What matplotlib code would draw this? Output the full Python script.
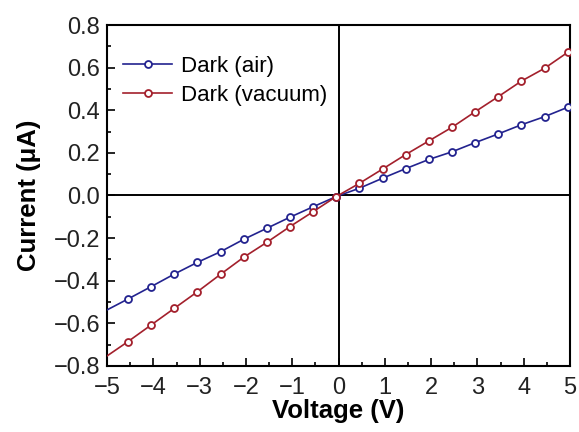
import matplotlib
matplotlib.use('Agg')
import matplotlib.pyplot as plt
from matplotlib.ticker import MultipleLocator

plt.rcParams['font.family'] = ['Liberation Sans', 'DejaVu Sans']

# data: line ends at -5 and 5, markers in between
voltage = [-5.0, -4.55, -4.05, -3.55, -3.05, -2.55, -2.05, -1.55, -1.05, -0.55, -0.05,
           0.45, 0.95, 1.45, 1.95, 2.45, 2.95, 3.45, 3.95, 4.45, 4.95, 5.0]
i_air = [-0.537, -0.486, -0.428, -0.369, -0.314, -0.264, -0.206, -0.154, -0.102, -0.053, -0.005,
         0.034, 0.081, 0.126, 0.169, 0.205, 0.248, 0.289, 0.332, 0.370, 0.414, 0.420]
i_vac = [-0.753, -0.686, -0.608, -0.530, -0.452, -0.370, -0.290, -0.220, -0.146, -0.076, -0.005,
         0.057, 0.124, 0.192, 0.256, 0.320, 0.393, 0.464, 0.537, 0.597, 0.672, 0.680]
labels = ['Dark (air)', 'Dark (vacuum)']
colors = ['#23238f', '#a3202c']

fig = plt.figure(figsize=(5.79, 4.32), dpi=100)
ax = fig.add_axes([0.185, 0.153, 0.7995, 0.789])

ax.axhline(0, color='black', linewidth=1.4, zorder=1)
ax.axvline(0, color='black', linewidth=1.4, zorder=1)

marks = list(range(1, len(voltage) - 1))
for ys, lbl, c in zip([i_air, i_vac], labels, colors):
    ax.plot(voltage, ys, color=c, linewidth=1.2, marker='o', markersize=5,
            markerfacecolor='white', markeredgecolor=c, markeredgewidth=1.3,
            markevery=marks, label=lbl, zorder=3)

ax.set_xlim(-5, 5)
ax.set_ylim(-0.8, 0.8)
ax.xaxis.set_major_locator(MultipleLocator(1))
ax.xaxis.set_minor_locator(MultipleLocator(0.5))
ax.yaxis.set_minor_locator(MultipleLocator(0.1))
ax.set_yticks([-0.8, -0.6, -0.4, -0.2, 0.0, 0.2, 0.4, 0.6, 0.8])
ax.set_yticklabels(['\u22120.8', '\u22120.6', '\u22120.4', '\u22120.2', '0.0',
                    '0.2', '0.4', '0.6', '0.8'])
ax.tick_params(which='both', direction='in', labelsize=17, width=1.2,
               labelcolor='#222222')
ax.tick_params(axis='x', pad=8)
ax.tick_params(axis='y', pad=5)
ax.tick_params(which='major', length=6)
ax.tick_params(which='minor', length=3)
for s in ax.spines.values():
    s.set_linewidth(1.5)

ax.set_xlabel('Voltage (V)', fontsize=18.5, fontweight='bold', labelpad=0)
ax.set_ylabel('Current (\u03bcA)', fontsize=18.5, fontweight='bold', labelpad=9)

ax.legend(loc='upper left', bbox_to_anchor=(0.035, 0.91), frameon=False,
          fontsize=16, handlelength=2.2, handletextpad=0.4, labelspacing=0.35,
          borderpad=0, borderaxespad=0)

fig.savefig('out.png', dpi=100)
